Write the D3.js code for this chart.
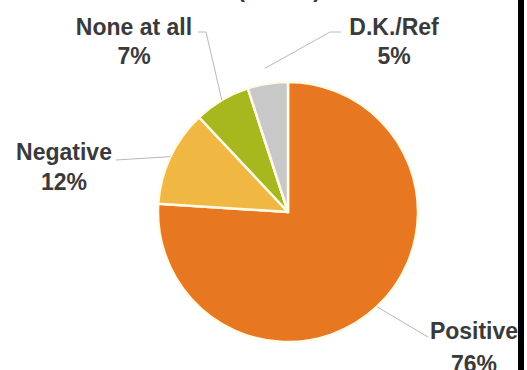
<!DOCTYPE html>
<html>
<head>
<meta charset="utf-8">
<script src="https://cdn.jsdelivr.net/npm/d3@7"></script>
<style>
  body { margin: 0; background: #fff; }
  svg { display: block; }
</style>
</head>
<body>
<div id="chart"></div>
<script>
// data
let categories = ["Positive", "Negative", "None at all", "D.K./Ref"];
let values = [76, 12, 7, 5];
let colors = ["#e87722", "#f1b743", "#a6b81d", "#c8c8c8"];

let width = 527,
    height = 370,
    cx = 288,
    cy = 212,
    radius = 130;

let svg = d3.select("#chart")
    .append("svg")
    .attr("width", width)
    .attr("height", height);

svg.append("rect")
    .attr("width", width)
    .attr("height", height)
    .style("fill", "#fff");

// title, almost entirely cut off at the top
svg.append("text")
    .attr("x", 279)
    .attr("y", -3)
    .text("(N=500)")
    .style("text-anchor", "middle")
    .style("font-family", "Liberation Sans, Arial, sans-serif")
    .style("font-size", "23px")
    .style("font-weight", 700)
    .style("fill", "#3a3a3a");

let pie = d3.pie().sort(null).value(d => d.value);
let data = categories.map((c, i) => ({ name: c, value: values[i], color: colors[i] }));
let arcs = pie(data);

let arc = d3.arc().innerRadius(0).outerRadius(radius);

let g = svg.append("g").attr("transform", "translate(" + cx + "," + cy + ")");

g.selectAll("path")
    .data(arcs)
    .enter()
    .append("path")
    .attr("d", arc)
    .style("fill", d => d.data.color)
    .style("stroke", "#fffbe8")
    .style("stroke-width", 2.5)
    .style("stroke-linejoin", "round");

// label layout (text anchor points and leader elbows)
let labels = {
    "Positive": { x: 474, y: 339, dy: 33, elbow: [428, 337], edge: 1.0 },
    "Negative": { x: 64, y: 160, dy: 30, elbow: [116, 160], edge: 1.0 },
    "None at all": { x: 134, y: 35, dy: 29, elbow: [198, 32], elbow2: [206, 32], edge: 1.0 },
    "D.K./Ref": { x: 394, y: 35, dy: 29, elbow: [341, 32], elbow2: [330, 32], edge: 1.12 }
};

arcs.forEach(function (d) {
    let l = labels[d.data.name];
    let mid = (d.startAngle + d.endAngle) / 2;
    let r = radius * l.edge;
    let ex = cx + Math.sin(mid) * r,
        ey = cy - Math.cos(mid) * r;
    let pts = [l.elbow];
    if (l.elbow2) pts.push(l.elbow2);
    pts.push([ex, ey]);

    svg.append("path")
        .attr("d", d3.line()(pts))
        .style("fill", "none")
        .style("stroke", "#b8b8b8")
        .style("stroke-width", 1);

    svg.append("text")
        .attr("x", l.x)
        .attr("y", l.y)
        .text(d.data.name)
        .style("text-anchor", "middle")
        .style("font-family", "Liberation Sans, Arial, sans-serif")
        .style("font-size", "23px")
        .style("font-weight", 700)
        .style("fill", "#3a3a3a");

    svg.append("text")
        .attr("x", l.x)
        .attr("y", l.y + l.dy)
        .text(d.data.value + "%")
        .style("text-anchor", "middle")
        .style("font-family", "Liberation Sans, Arial, sans-serif")
        .style("font-size", "23px")
        .style("font-weight", 700)
        .style("fill", "#3a3a3a");
});

// black frame edge on the right
svg.append("rect")
    .attr("x", 518)
    .attr("y", 0)
    .attr("width", 6)
    .attr("height", height)
    .style("fill", "#000");
</script>
</body>
</html>
